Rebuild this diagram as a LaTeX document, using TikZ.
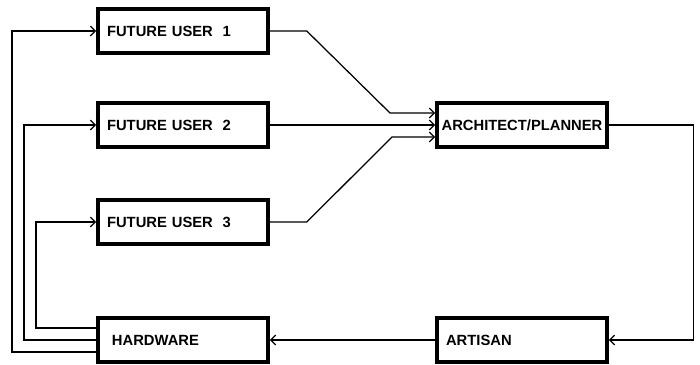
\documentclass[tikz,border=0pt]{standalone}
\usepackage{fontspec}
\setmainfont{Liberation Sans}
\usetikzlibrary{arrows.meta}

\tikzset{
  box/.style={draw, line width=2.6pt, minimum height=1.1cm,
    font=\bfseries\fontsize{10.5}{12}\selectfont},
  unit/.style={box, text width=108pt, inner xsep=6.4pt, align=left},
  hub/.style={box, minimum width=4.25cm, inner xsep=2pt, align=center},
  link/.style={line width=0.9pt, -{Straight Barb[length=3.5pt,width=7pt]}},
}

\begin{document}
\begin{tikzpicture}[x=0.025cm, y=-0.025cm]
\useasboundingbox (0,0) rectangle (700,364);

% Boxes
\node[unit] (fu1) at (183,31) {FUTURE USER~~1};
\node[unit] (fu2) at (183,125) {FUTURE USER~~2};
\node[unit] (fu3) at (183,222) {FUTURE USER~~3};
\node[unit, inner xsep=10pt, text width=101pt] (hw) at (183,340) {HARDWARE};
\node[hub] (arch) at (522,125) {ARCHITECT/PLANNER};
\node[unit] (art) at (522,340) {ARTISAN};

% Users to architect
\draw[link] (fu1.east) -- ++(37,0) -- (390,113) -- ([yshift=8.5pt]arch.west);
\draw[link] (fu2.east) -- (arch.west);
\draw[link] (fu3.east) -- ++(37,0) -- (392,137) -- ([yshift=-8.5pt]arch.west);

% Architect to artisan to hardware
\draw[link] (arch.east) -- ++(85,0) |- (art.east);
\draw[link] (art.west) -- (hw.east);

% Hardware back to users
\draw[link] ([yshift=8.5pt]hw.west) -- ++(-60,0) |- (fu3.west);
\draw[link] (hw.west) -- ++(-72,0) |- (fu2.west);
\draw[link] ([yshift=-8.5pt]hw.west) -- ++(-84,0) |- (fu1.west);
\end{tikzpicture}
\end{document}
